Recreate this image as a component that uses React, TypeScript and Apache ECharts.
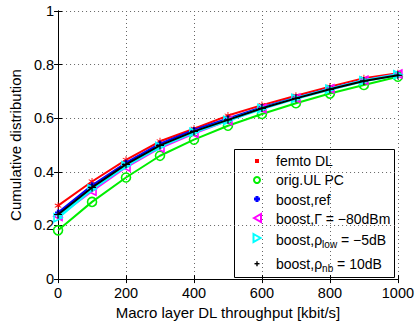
import React, { useEffect, useRef } from "react";
import * as echarts from "echarts";

const throughput = [0, 100, 200, 300, 400, 500, 600, 700, 800, 900, 1000];
const femtoDL = [0.274, 0.364, 0.445, 0.514, 0.561, 0.61, 0.649, 0.684, 0.718, 0.749, 0.768];
const origULPC = [0.182, 0.288, 0.379, 0.46, 0.52, 0.572, 0.616, 0.656, 0.692, 0.724, 0.755];
const boostRef = [0.248, 0.35, 0.434, 0.505, 0.556, 0.599, 0.641, 0.677, 0.711, 0.742, 0.763];
const boostGamma = [0.234, 0.328, 0.417, 0.489, 0.543, 0.591, 0.636, 0.675, 0.71, 0.742, 0.765];
const boostRhoLow = [0.229, 0.336, 0.423, 0.495, 0.548, 0.592, 0.636, 0.674, 0.708, 0.74, 0.762];
const boostRhoNb = [0.241, 0.342, 0.428, 0.499, 0.551, 0.594, 0.637, 0.674, 0.708, 0.739, 0.76];

const xTicks = [0, 200, 400, 600, 800, 1000];
const yTicks = [0, 0.2, 0.4, 0.6, 0.8, 1];

const FONT = "'Liberation Sans', Arial, sans-serif";

const ASTERISK =
  "path://M4.4,0h1.2v3.9l3.4,-2l0.6,1l-3.4,2.1l3.4,2.1l-0.6,1l-3.4,-2v3.9h-1.2v-3.9l-3.4,2l-0.6,-1l3.4,-2.1l-3.4,-2.1l0.6,-1l3.4,2z";
const FATPLUS = "path://M3,0h4v3h3v4h-3v3h-4v-3h-3v-4h3z";
const PLUS = "path://M4.25,0h1.5v4.25h4.25v1.5h-4.25v4.25h-1.5v-4.25h-4.25v-1.5h4.25z";
const TRI_LEFT = "path://M10,0L0,5L10,10Z";
const TRI_RIGHT = "path://M0,0L10,5L0,10Z";

function pairs(ys: number[]) {
  return throughput.map((x, i) => [x, ys[i]]);
}

export default function App() {
  const ref = useRef<HTMLDivElement>(null);
  useEffect(() => {
    if (!ref.current) return;
    const chart = echarts.init(ref.current, undefined, { renderer: "svg" });
    const axisLine = { show: true, lineStyle: { color: "#000", width: 1 } };
    const tick = { show: true, inside: true, length: 4, lineStyle: { color: "#000" } };
    const splitLine = { show: true, lineStyle: { color: "#666", type: [1, 3], width: 1 } };
    const mk = (name: string, data: number[], color: string, symbol: string, size: number, hollow: boolean, z: number, width = 2) => ({
      name,
      type: "line",
      data: pairs(data),
      symbol,
      symbolSize: size,
      showSymbol: true,
      z,
      lineStyle: { color, width },
      itemStyle: hollow
        ? { color: "none", borderColor: color, borderWidth: 1.6 }
        : { color, borderWidth: 0 },
    });
    chart.setOption({
      animation: false,
      backgroundColor: "#fff",
      textStyle: { fontFamily: FONT },
      grid: { left: 54, top: 11, right: 15, bottom: 43 },
      xAxis: [
        {
          type: "value",
          min: 0,
          max: 1000,
          interval: 200,
          position: "bottom",
          axisLine,
          axisTick: tick,
          splitLine,
          axisLabel: {
            color: "#000",
            fontSize: 14.5,
            margin: 6,
            fontFamily: FONT,
            formatter: (v: number) => {
              const t = xTicks.find((x) => Math.abs(x - v) < 1e-6);
              return t === undefined ? "" : String(t);
            },
          },
          name: "Macro layer DL throughput [kbit/s]",
          nameLocation: "middle",
          nameGap: 22,
          nameTextStyle: { color: "#000", fontSize: 15, fontFamily: FONT },
        },
        {
          type: "value",
          min: 0,
          max: 1000,
          interval: 200,
          position: "top",
          axisLine,
          axisTick: tick,
          splitLine: { show: false },
          axisLabel: { show: false },
        },
      ],
      yAxis: [
        {
          type: "value",
          min: 0,
          max: 1,
          interval: 0.2,
          position: "left",
          axisLine,
          axisTick: tick,
          splitLine,
          axisLabel: {
            color: "#000",
            fontSize: 14.5,
            margin: 4,
            fontFamily: FONT,
            formatter: (v: number) => {
              const t = yTicks.find((y) => Math.abs(y - v) < 1e-6);
              return t === undefined ? "" : t === 0 || t === 1 ? String(t) : t.toFixed(1);
            },
          },
          name: "Cumulative distribution",
          nameLocation: "middle",
          nameGap: 30,
          nameTextStyle: { color: "#000", fontSize: 15, fontFamily: FONT },
        },
        {
          type: "value",
          min: 0,
          max: 1,
          interval: 0.2,
          position: "right",
          axisLine,
          axisTick: tick,
          splitLine: { show: false },
          axisLabel: { show: false },
        },
      ],
      series: [
        mk("femto DL", femtoDL, "#ff0000", ASTERISK, 7, false, 2),
        mk("orig.UL PC", origULPC, "#00ee00", "circle", 9, true, 2),
        mk("boost,ref", boostRef, "#0000ff", FATPLUS, 6, false, 3),
        mk("boost,Γ = −80dBm", boostGamma, "#ff00ff", TRI_LEFT, 8, true, 4),
        mk("boost,ρlow = −5dB", boostRhoLow, "#00ffff", TRI_RIGHT, 8, true, 5, 3),
        mk("boost,ρnb = 10dB", boostRhoNb, "#000000", PLUS, 8, false, 6),
      ],
      graphic: [
        {
          type: "group",
          z: 100,
          children: [
            {
              type: "rect",
              shape: { x: 234.5, y: 149.5, width: 160, height: 128 },
              style: { fill: "#fff", stroke: "#000", lineWidth: 1 },
            },
            { type: "rect", shape: { x: 255, y: 159, width: 4, height: 4 }, style: { fill: "#ff0000" } },
            { type: "circle", shape: { cx: 257, cy: 180, r: 3 }, style: { fill: "none", stroke: "#00ee00", lineWidth: 2 } },
            {
              type: "polygon",
              shape: { points: [[255.5, 196], [258.5, 196], [258.5, 197.5], [260, 197.5], [260, 200.5], [258.5, 200.5], [258.5, 202], [255.5, 202], [255.5, 200.5], [254, 200.5], [254, 197.5], [255.5, 197.5]] },
              style: { fill: "#0000ff" },
            },
            {
              type: "polygon",
              shape: { points: [[254, 218], [261, 214], [261, 222]] },
              style: { fill: "none", stroke: "#ff00ff", lineWidth: 2 },
            },
            {
              type: "polygon",
              shape: { points: [[253.5, 234], [260.5, 238], [253.5, 242]] },
              style: { fill: "none", stroke: "#00ffff", lineWidth: 2 },
            },
            { type: "rect", shape: { x: 254.5, y: 263, width: 5, height: 1.4 }, style: { fill: "#000" } },
            { type: "rect", shape: { x: 256.3, y: 261.2, width: 1.4, height: 5 }, style: { fill: "#000" } },
            {
              type: "text",
              x: 276,
              y: 161,
              style: { text: "femto DL", fill: "#000", font: `14px ${FONT}`, verticalAlign: "middle" },
            },
            {
              type: "text",
              x: 276,
              y: 180,
              style: { text: "orig.UL PC", fill: "#000", font: `14px ${FONT}`, verticalAlign: "middle" },
            },
            {
              type: "text",
              x: 276,
              y: 199.5,
              style: { text: "boost,ref", fill: "#000", font: `14px ${FONT}`, verticalAlign: "middle" },
            },
            {
              type: "text",
              x: 276,
              y: 218.5,
              style: { text: "boost,Γ = −80dBm", fill: "#000", font: `14px ${FONT}`, verticalAlign: "middle" },
            },
            {
              type: "text",
              x: 276,
              y: 239.5,
              style: {
                text: "{a|boost,ρ}{s|low}{a| = −5dB}",
                verticalAlign: "middle",
                rich: {
                  a: { fontSize: 14, fontFamily: FONT, fill: "#000", lineHeight: 20, color: "#000" },
                  s: { fontSize: 10, fontFamily: FONT, fill: "#000", lineHeight: 10, padding: [10, 0, 0, 0], color: "#000" },
                },
              },
            },
            {
              type: "text",
              x: 276,
              y: 263.5,
              style: {
                text: "{a|boost,ρ}{s|nb}{a| = 10dB}",
                verticalAlign: "middle",
                rich: {
                  a: { fontSize: 14, fontFamily: FONT, fill: "#000", lineHeight: 20, color: "#000" },
                  s: { fontSize: 10, fontFamily: FONT, fill: "#000", lineHeight: 10, padding: [10, 0, 0, 0], color: "#000" },
                },
              },
            },
          ],
        },
      ],
    });
    return () => chart.dispose();
  }, []);
  return (
    <div
      ref={ref}
      style={{ position: "fixed", left: 0, top: 0, width: 417, height: 325, background: "#fff" }}
    />
  );
}
